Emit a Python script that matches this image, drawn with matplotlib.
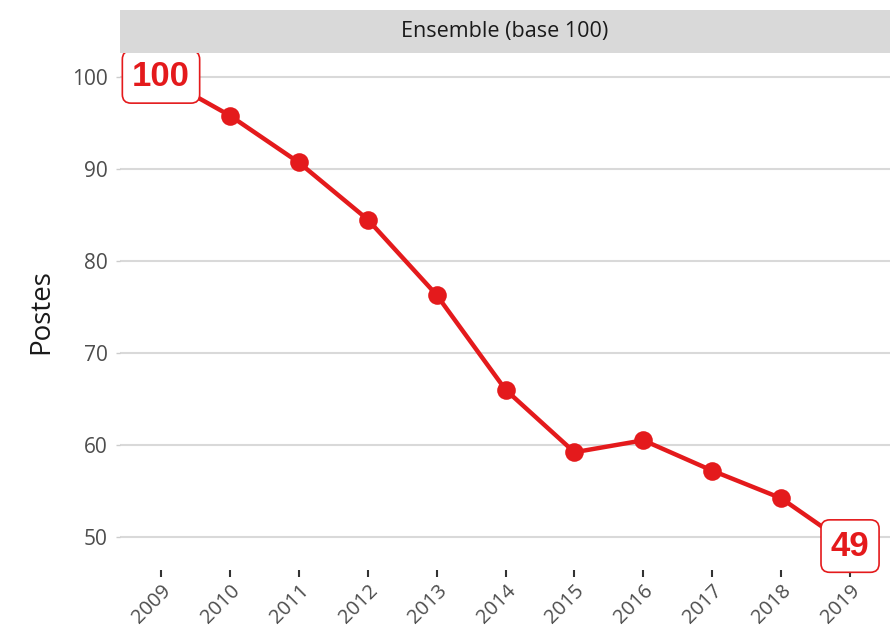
import matplotlib
matplotlib.use('Agg')
import matplotlib.pyplot as plt

# Postes, base 100 en 2009
annees = [2009, 2010, 2011, 2012, 2013, 2014, 2015, 2016, 2017, 2018, 2019]
postes = [100, 95.8, 90.7, 84.5, 76.3, 66.0, 59.2, 60.5, 57.2, 54.2, 49]
y_ticks = [50, 60, 70, 80, 90, 100]
titre_facette = 'Ensemble (base 100)'

rouge = '#E41A1C'
plt.rcParams['font.family'] = ['Open Sans', 'DejaVu Sans']

fig = plt.figure(figsize=(8.9, 6.32), dpi=100)
# panel position in pixels: x 120..890, y 53..570
ax = fig.add_axes([120 / 890, 1 - 570 / 632, 770 / 890, 517 / 632])
strip = fig.add_axes([120 / 890, 1 - 53 / 632, 770 / 890, 43 / 632])

ax.plot(annees, postes, color=rouge, lw=3.2, zorder=3, solid_capstyle='round')
ax.scatter(annees, postes, s=180, color=rouge, zorder=4, linewidths=0)

# first and last value labels
for i in (0, len(annees) - 1):
    ax.text(annees[i], postes[i], '%d' % round(postes[i]), color=rouge,
            fontsize=25, fontweight='bold', family=['Liberation Sans'],
            ha='center', va='center', zorder=5,
            bbox=dict(boxstyle='round,pad=0.28,rounding_size=0.25',
                      fc='white', ec=rouge, lw=1.2))

ax.set_xlim(2008.405, 2019.58)
ax.set_ylim(46.4, 102.6)
ax.set_yticks(y_ticks)
ax.set_xticks(annees)
ax.set_xticklabels([str(a) for a in annees], rotation=45, ha='right',
                   rotation_mode='anchor', fontsize=14.5, color='#4d4d4d')
ax.tick_params(axis='x', length=5, width=1.5, color='#333333', pad=3)
ax.tick_params(axis='y', length=3, width=1, color='#cccccc', labelsize=15,
               labelcolor='#4d4d4d', pad=6)
ax.yaxis.grid(True, color='#d9d9d9', lw=1.5)
ax.set_axisbelow(True)
for s in ax.spines.values():
    s.set_visible(False)
ax.set_ylabel('Postes', fontsize=20, color='#1a1a1a', labelpad=12)

strip.set_facecolor('#d9d9d9')
strip.set_xticks([])
strip.set_yticks([])
for s in strip.spines.values():
    s.set_visible(False)
strip.text(0.5, 0.5, titre_facette, ha='center', va='center',
           fontsize=15.5, color='#1a1a1a', transform=strip.transAxes)

fig.savefig('out.png', dpi=100)
